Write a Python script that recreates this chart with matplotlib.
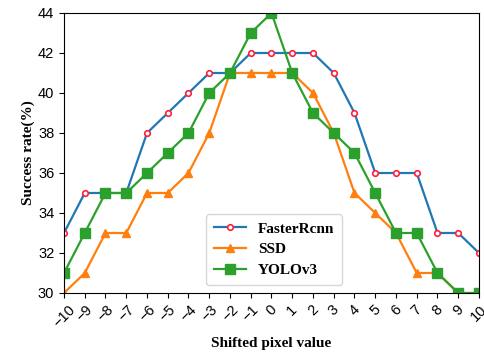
import matplotlib
matplotlib.use("Agg")
import matplotlib.pyplot as plt

shifts = list(range(-10, 11))
faster_rcnn = [33, 35, 35, 35, 38, 39, 40, 41, 41, 42, 42, 42, 42, 41, 39, 36, 36, 36, 33, 33, 32]
ssd = [30, 31, 33, 33, 35, 35, 36, 38, 41, 41, 41, 41, 40, 38, 35, 34, 33, 31, 31, 30, 30]
yolov3 = [31, 33, 35, 35, 36, 37, 38, 40, 41, 43, 44, 41, 39, 38, 37, 35, 33, 33, 31, 30, 30]

plt.rcParams['font.family'] = ['Liberation Sans', 'DejaVu Sans']

fig = plt.figure(figsize=(4.85, 3.54), dpi=100)
ax = fig.add_axes([64 / 485, 1 - 293 / 354, (479 - 64) / 485, (293 - 13) / 354])

ax.plot(shifts, faster_rcnn, color='#1f77b4', lw=1.6, marker='o', ms=4,
        mfc='white', mec='#ff1f3a', mew=1.2, label='FasterRcnn')
ax.plot(shifts, ssd, color='#ff7f0e', lw=1.6, marker='^', ms=6, label='SSD')
ax.plot(shifts, yolov3, color='#2ca02c', lw=1.6, marker='s', ms=6.5, label='YOLOv3')

ax.set_xlim(-10, 10)
ax.set_ylim(30, 44)
ax.set_xticks(shifts)
ax.set_yticks(range(30, 45, 2))
ax.tick_params(axis='both', labelsize=10.5, direction='out')
for lab in ax.get_xticklabels():
    lab.set_rotation(45)
    lab.set_ha('center')

serif = {'family': 'Liberation Serif', 'weight': 'bold', 'size': 11}
ax.set_xlabel('Shifted pixel value', fontdict=serif, labelpad=5)
ax.set_ylabel('Success rate(%)', fontdict=serif, labelpad=2)

leg = ax.legend(loc='lower left', bbox_to_anchor=(0.342, 0.03), borderaxespad=0,
                prop={'family': 'Liberation Serif', 'weight': 'bold', 'size': 11},
                handlelength=2.1, borderpad=0.5, labelspacing=0.45)

fig.savefig('out.png', dpi=100)
